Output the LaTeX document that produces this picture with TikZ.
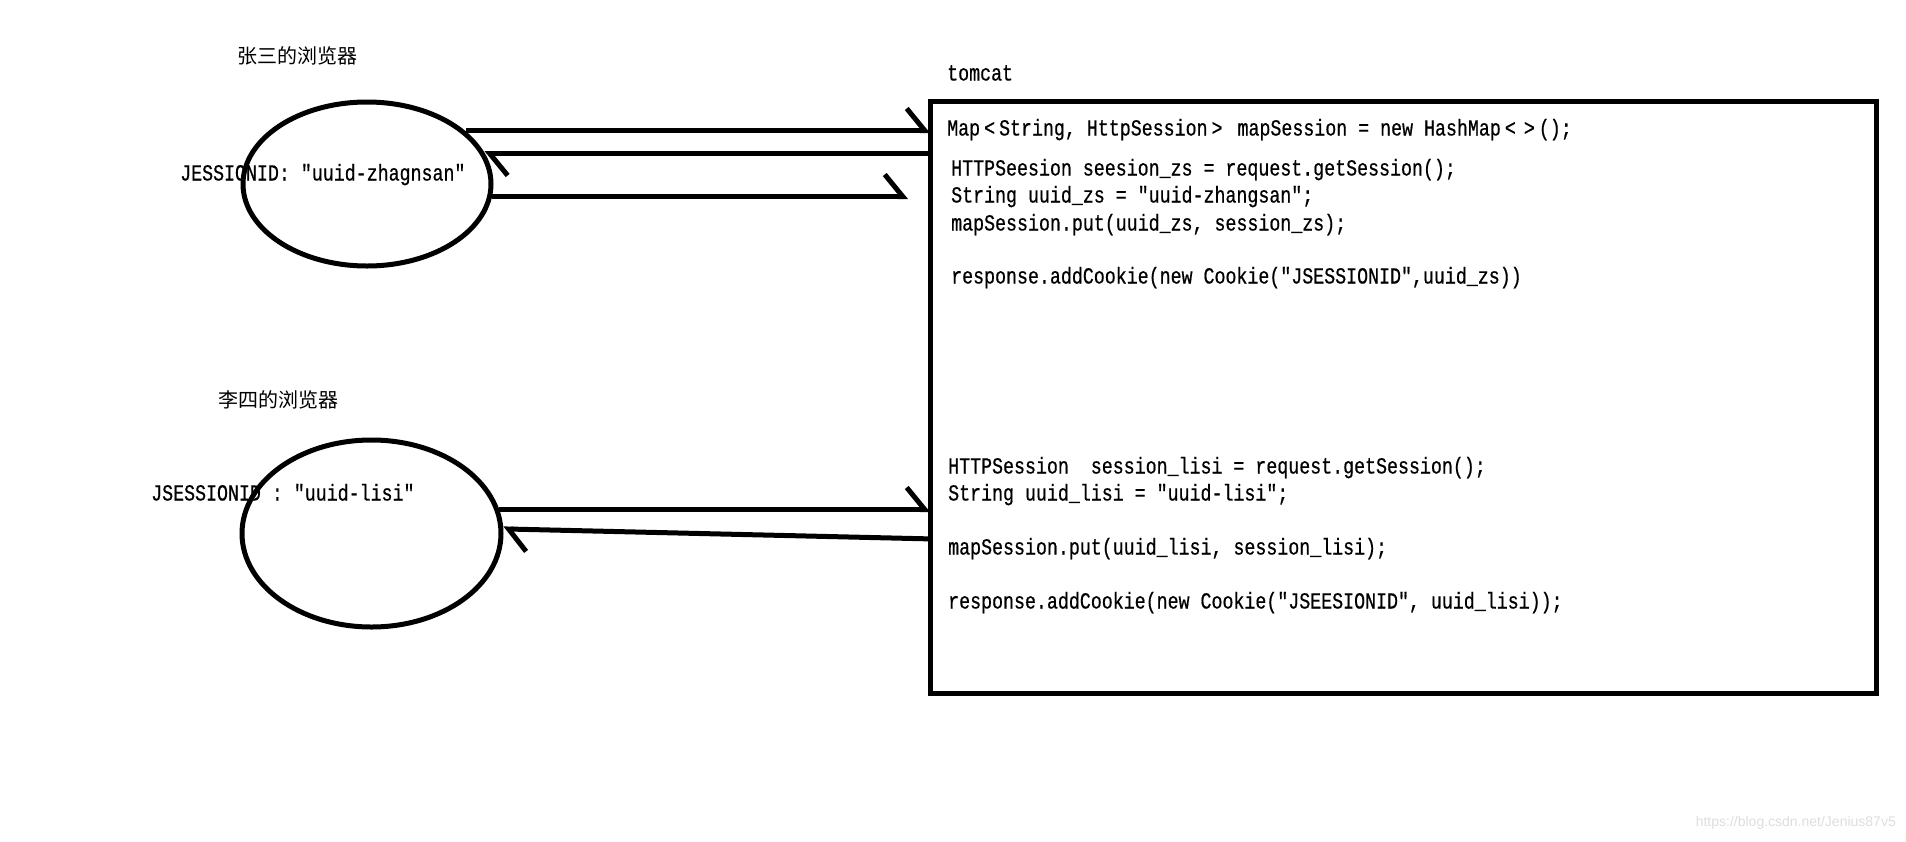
\documentclass[tikz,border=0pt]{standalone}
\usepackage{fontspec}
\setmainfont{Liberation Serif}
\newfontfamily\codefont[FakeStretch=0.795, FakeBold=0.6]{Liberation Mono}
\newfontfamily\cjk{Noto Sans CJK SC}
\newfontfamily\wmfont{Liberation Sans}
\usetikzlibrary{
  arrows.meta,
  shapes.geometric,
  positioning,
  calc
}
\tikzset{
  browser/.style={draw, ellipse, line width=5pt, inner sep=0pt},
  server/.style={draw, line width=5pt, inner sep=0pt, outer sep=0pt, anchor=north west},
  code/.style={font=\codefont\fontsize{23}{27}\selectfont, anchor=west, inner sep=0pt,
    text height=15pt, text depth=4pt},
  title/.style={font=\cjk\fontsize{20}{24}\selectfont, anchor=west, inner sep=0pt},
  tobox/.style={line width=5pt, -{Straight Barb[harpoon, length=18pt, width=44pt]}},
  wmark/.style={font=\wmfont\fontsize{14}{16}\selectfont, text=black!13, anchor=east, inner sep=0pt}
}
\newcommand{\lt}{\makebox[19pt]{<}}
\newcommand{\gt}{\makebox[19pt]{>}}

\begin{document}
\begin{tikzpicture}[x=1pt, y=-1pt]
  \useasboundingbox[fill=white] (0,0) rectangle (1906,841);

  % the two browsers
  \node[title] (zsname) at (237,56) {张三的浏览器};
  \node[code] (zsid) at (180,175) {JESSIONID: "uuid-zhagnsan"};
  \node[browser, minimum width=248pt, minimum height=164pt] (zs) at (367,184) {};

  \node[title] (lsname) at (218,400) {李四的浏览器};
  \node[code] (lsid) at (151,495) {JSESSIONID : "uuid-lisi"};
  \node[browser, minimum width=259pt, minimum height=187pt] (ls) at (371.5,533.5) {};

  % tomcat and its code
  \node[code] (tc) at (947,75) {tomcat};
  \node[server, minimum width=946.5pt, minimum height=592pt] (box) at (930,101.5) {};
  \foreach \x/\y/\txt [count=\i] in {
    947/130/{Map\lt String, HttpSession\gt{} mapSession = new HashMap\lt\gt();},
    951/170/{HTTPSeesion seesion\_zs = request.getSession();},
    951/197/{String uuid\_zs = "uuid-zhangsan";},
    951/225/{mapSession.put(uuid\_zs, session\_zs);},
    951/278/{response.addCookie(new Cookie("JSESSIONID",uuid\_zs))},
    948/468/{HTTPSession\ \ session\_lisi = request.getSession();},
    948/495/{String uuid\_lisi = "uuid-lisi";},
    948/549/{mapSession.put(uuid\_lisi, session\_lisi);},
    948/603/{response.addCookie(new Cookie("JSEESIONID", uuid\_lisi));}}{
    \node[code] (line\i) at (\x,\y) {\txt};
  }

  % requests and responses
  \coordinate (row1) at (0,130.5);
  \coordinate (row2) at (0,153.5);
  \coordinate (row3) at (0,196.5);
  \coordinate (row4) at (0,509.5);
  \draw[tobox] (zs.28 |- row1) -- (box.west |- row1);
  \draw[tobox] (box.west |- row2) -- (zs.15 |- row2);
  \draw[tobox] (zs.-6 |- row3) -- ($(box.west |- row3)+(-22,0)$);
  \draw[tobox] (ls.11 |- row4) -- (box.west |- row4);
  \draw[tobox] ($(ls.2 -| box.west)+(0,10)$) -- (ls.2);

  \node[wmark] (wm) at (1896,823) {https://blog.csdn.net/Jenius87v5};
\end{tikzpicture}
\end{document}
